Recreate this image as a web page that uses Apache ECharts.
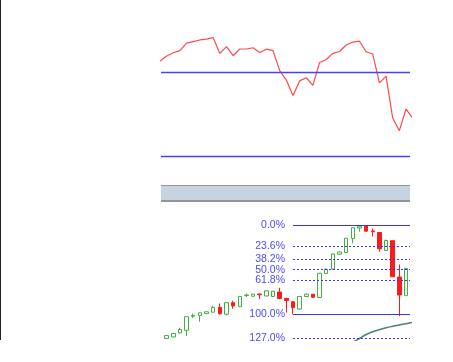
<!DOCTYPE html>
<html><head><meta charset="utf-8">
<script src="https://cdn.jsdelivr.net/npm/echarts@6/dist/echarts.min.js"></script>
<style>html,body{margin:0;padding:0;background:#fff;}#c{width:453px;height:341px;}</style>
</head><body><div id="c"></div>
<script>
// Oscillator (one value per bar, index 0..38)
const oscValues = [75.4, 77.8, 79.3, 80.3, 83.9, 84.6, 85.4, 85.8, 86.5, 79.0, 82.2, 77.9, 81.1, 81.1, 81.7, 79.4, 81.0, 80.3, 70.8, 66.3, 58.9, 65.9, 67.4, 63.8, 74.7, 76.1, 79.0, 79.9, 83.0, 84.4, 84.8, 79.8, 78.7, 65.0, 68.2, 48.2, 42.2, 52.5, 48.2];
const oscLevels = [70, 30];

// Candles for bars 1..38
const candleStart = 1;
const opens  = [91.87, 92.37, 93.72, 94.62, 99.33, 99.60, 100.20, 100.71, 102.35, 100.03, 103.90, 102.55, 106.28, 106.05, 106.82, 106.15, 105.98, 107.49, 105.31, 104.23, 101.78, 105.98, 106.75, 105.64, 113.71, 115.22, 120.16, 120.76, 125.46, 128.99, 129.73, 127.98, 127.48, 121.43, 124.73, 112.53, 106.25, 115.39];
const closes = [92.88, 93.55, 94.89, 99.19, 99.66, 100.50, 100.84, 102.28, 100.17, 103.90, 102.79, 105.98, 106.48, 106.75, 106.55, 107.89, 107.76, 105.31, 104.64, 102.22, 105.98, 106.75, 105.74, 113.77, 115.12, 120.26, 120.93, 125.53, 129.09, 129.56, 127.92, 127.72, 122.04, 124.79, 112.63, 106.48, 115.45, 111.52];
const lows   = [91.77, 92.21, 93.62, 92.71, 98.76, 97.51, 100.10, 100.60, 99.87, 99.60, 101.85, 102.45, 105.81, 105.98, 105.14, 106.05, 105.88, 105.04, 100.54, 100.00, 101.51, 105.91, 105.48, 105.54, 113.54, 115.05, 120.02, 120.69, 123.85, 127.75, 127.82, 126.14, 121.03, 121.27, 112.56, 99.36, 106.15, 111.19];
const highs  = [92.98, 93.72, 95.50, 99.26, 100.27, 100.60, 100.94, 102.86, 103.63, 103.96, 104.57, 106.05, 106.99, 106.82, 106.89, 108.00, 107.83, 108.90, 105.48, 104.30, 106.05, 106.99, 106.82, 113.87, 115.39, 120.36, 121.10, 125.63, 129.23, 130.00, 129.93, 128.82, 127.55, 125.13, 124.86, 116.73, 115.55, 115.55];

// Moving average for bars 28..38
const maStart = 28;
const maValues = [89.69, 90.69, 91.87, 93.21, 94.12, 94.83, 95.46, 95.97, 96.41, 96.85, 97.31];

// Fibonacci retracement
const fibLevels = [0, 23.6, 38.2, 50, 61.8, 100, 127];
const fibLabels = ['0.0%', '23.6%', '38.2%', '50.0%', '61.8%', '100.0%', '127.0%'];
const swingHigh = 130, swingLow = 100, swingStartBar = 20;

const xMin = 0.15, xMax = 37.6;
const gridLeft = 161, gridWidth = 249;

const candleData = opens.map((o, k) => [k + candleStart, o, closes[k], lows[k], highs[k]]);
const oscData = oscValues.map((v, i) => [i, v]);
const maData = maValues.map((v, k) => [k + maStart, v]);
const fibLines = fibLevels.map((lv, k) => {
  const p = swingHigh - (swingHigh - swingLow) * lv / 100;
  const solid = (lv === 0 || lv === 100);
  return [
    {name: fibLabels[k], coord: [swingStartBar, p], lineStyle: {type: solid ? 'solid' : [2, 2], width: 1, color: '#3434f2'}},
    {coord: [xMax, p]}
  ];
});

const chart = echarts.init(document.getElementById('c'), null, {renderer: 'canvas'});
chart.setOption({
  animation: false,
  backgroundColor: '#fff',
  graphic: [
    {type: 'rect', shape: {x: 0, y: 0, width: 1, height: 340}, style: {fill: '#222'}, silent: true},
    {type: 'rect', shape: {x: gridLeft, y: 185, width: gridWidth, height: 1}, style: {fill: '#959595'}, silent: true},
    {type: 'rect', shape: {x: gridLeft, y: 186, width: gridWidth, height: 14}, style: {fill: '#c6d3e0'}, silent: true},
    {type: 'rect', shape: {x: gridLeft, y: 200, width: gridWidth, height: 2}, style: {fill: '#959595'}, silent: true}
  ],
  grid: [
    {left: gridLeft, width: gridWidth, top: 30.3, height: 126, outerBoundsMode: 'none', containLabel: false},
    {left: gridLeft, width: gridWidth, top: 210.1, height: 148.85, outerBoundsMode: 'none', containLabel: false}
  ],
  xAxis: [
    {type: 'value', gridIndex: 0, min: xMin, max: xMax, show: false},
    {type: 'value', gridIndex: 1, min: xMin, max: xMax, show: false}
  ],
  yAxis: [
    {type: 'value', gridIndex: 0, min: 30, max: 90, show: false},
    {type: 'value', gridIndex: 1, min: 85, max: 135, show: false}
  ],
  series: [
    {
      type: 'line', xAxisIndex: 0, yAxisIndex: 0, data: oscData, showSymbol: false, symbol: 'none',
      lineStyle: {color: '#ff4a4a', width: 1.2}, clip: true, silent: true,
      markLine: {
        silent: true, symbol: ['none', 'none'], label: {show: false},
        lineStyle: {color: '#4343ff', type: 'solid', width: 1.3},
        data: oscLevels.map(v => ({yAxis: v}))
      }
    },
    {
      type: 'candlestick', xAxisIndex: 1, yAxisIndex: 1, data: candleData, barWidth: 4, clip: true, silent: true,
      itemStyle: {color: '#ffffff', color0: '#ff1a1a', borderColor: '#44b044', borderColor0: '#ff1a1a', borderWidth: 1}
    },
    {
      type: 'line', xAxisIndex: 1, yAxisIndex: 1, data: maData, showSymbol: false, symbol: 'none', smooth: true,
      lineStyle: {color: '#4f7f7f', width: 1.5}, clip: true, silent: true,
      markLine: {
        silent: true, symbol: ['none', 'none'],
        label: {show: true, position: 'start', distance: 8, formatter: '{b}', color: '#4c4cf0', fontSize: 10.5, fontFamily: 'Liberation Sans, Arial, sans-serif'},
        data: fibLines
      }
    }
  ]
});
</script></body></html>
